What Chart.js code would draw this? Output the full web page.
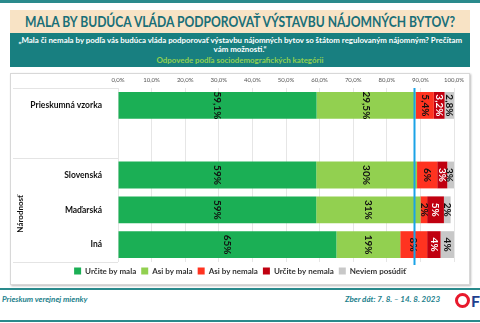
<!DOCTYPE html>
<html lang="sk">
<head>
<meta charset="utf-8">
<script src="https://cdn.jsdelivr.net/npm/chart.js"></script>
<title>Mala by budúca vláda podporovať výstavbu nájomných bytov?</title>
<style>
  body { margin: 0; width: 480px; height: 323px; background: #fff; position: relative; overflow: hidden; font-family: Lato, "Open Sans", sans-serif; }
  .topline { position: absolute; left: 0; top: 0; width: 480px; height: 3px; background: #2a8a8c; }
  .title { position: absolute; left: 10px; top: 10px; width: 460px; height: 23px; background: #f8e3c5; color: #1a6f78;
           font-weight: bold; font-size: 15px; line-height: 23px; white-space: nowrap; }
  .title span { position: absolute; left: 50%; top: 0; transform-origin: center; }
  .question { position: absolute; left: 10px; top: 33px; width: 460px; height: 34px; background: #187f80; color: #fff;
              font-weight: bold; font-size: 7.9px; text-align: center; line-height: 9px; padding-top: 3px; box-sizing: border-box; white-space: nowrap; }
  .question #q1 { display: inline-block; transform-origin: center; }
  .question .sub { color: #92d050; margin-top: 2px; }
  .panel { position: absolute; left: 10px; top: 73px; width: 460px; height: 212px; border: 1px solid #d8d8d8; box-sizing: border-box;
           box-shadow: 1px 1px 2px #bbb; }
  .chartbox { position: absolute; left: 10px; top: 73px; width: 460px; height: 212px; }
  .footline { position: absolute; left: 0; width: 480px; height: 2px; background: #2a8a8c; }
  .foot { position: absolute; top: 294px; color: #1d7f8c; font-style: italic; font-weight: bold; font-size: 8px; }
  .logo { position: absolute; left: 455px; top: 293px; width: 9px; height: 9px; border: 3px solid #e8192c; border-radius: 50%; }
  .logo2 { position: absolute; left: 471px; top: 291px; color: #1f3f8f; font-weight: bold; font-size: 16px; }
</style>
</head>
<body>
<div class="topline"></div>
<div class="title"><span id="titleText">MALA BY BUDÚCA VLÁDA PODPOROVAŤ VÝSTAVBU NÁJOMNÝCH BYTOV?</span></div>
<div class="question"><span id="q1">„Mala či nemala by podľa vás budúca vláda podporovať výstavbu nájomných bytov so štátom regulovaným nájomným? Prečítam</span><br>vám možnosti.“
  <div class="sub">Odpovede podľa sociodemografických kategórii</div></div>
<div class="panel"></div>
<div class="chartbox"><canvas id="myChart"></canvas></div>
<div class="footline" style="top:288px"></div>
<div class="foot" style="left:2px">Prieskum verejnej mienky</div>
<div class="foot" style="left:345px">Zber dát: 7. 8. – 14. 8. 2023</div>
<div class="logo"></div>
<div class="logo2">F</div>
<div class="footline" style="top:320px"></div>

<script>
  const categories = ['Prieskumná vzorka', '', 'Slovenská', 'Maďarská', 'Iná'];
  const urciteMala = [59.1, null, 59, 59, 65];
  const asiMala = [29.5, null, 30, 31, 19];
  const asiNemala = [5.4, null, 6, 2, 8];
  const urciteNemala = [3.2, null, 3, 5, 4];
  const neviem = [2.8, null, 3, 2, 4];
  const labelTexts = [
    ['59,1%', '', '59%', '59%', '65%'],
    ['29,5%', '', '30%', '31%', '19%'],
    ['5,4%', '', '6%', '2%', '8%'],
    ['3,2%', '', '3%', '5%', '4%'],
    ['2,8%', '', '3%', '2%', '4%']
  ];
  const xTicks = ['0,0%', '10,0%', '20,0%', '30,0%', '40,0%', '50,0%', '60,0%', '70,0%', '80,0%', '90,0%', '100,0%'];
  const groupLabel = 'Národnosť';
  const groupFrom = 2, groupTo = 4;
  const markerValue = 88.1;

  // squeeze texts to the widths of the original slide
  const t = document.getElementById('titleText');
  t.style.transform = 'translateX(-50%) scaleX(' + (430 / t.offsetWidth) + ')';
  const q1 = document.getElementById('q1');
  q1.style.transform = 'scaleX(' + (444 / q1.offsetWidth) + ')';

  // values printed rotated on the bars
  const barLabels = {
    id: 'barLabels',
    afterDatasetsDraw(chart) {
      const ctx = chart.ctx;
      ctx.save();
      ctx.font = 'bold 10px Lato, sans-serif';
      ctx.textAlign = 'center';
      ctx.textBaseline = 'middle';
      chart.data.datasets.forEach((ds, i) => {
        chart.getDatasetMeta(i).data.forEach((bar, j) => {
          const txt = labelTexts[i][j];
          if (!txt) return;
          const x = Math.min((bar.x + bar.base) / 2, chart.chartArea.right - 5);
          ctx.save();
          ctx.translate(x, bar.y);
          ctx.rotate(Math.PI / 2);
          ctx.fillStyle = i === 3 ? '#fff' : '#111';
          ctx.fillText(txt, 0, 0);
          ctx.restore();
        });
      });
      ctx.restore();
    },
    afterDraw(chart) {
      const ctx = chart.ctx;
      const xs = chart.scales.x, ys = chart.scales.y;
      const area = chart.chartArea;
      const step = (ys.getPixelForValue(1) - ys.getPixelForValue(0));
      ctx.save();
      // separators in the label column
      ctx.strokeStyle = '#e4e4e4';
      ctx.lineWidth = 1;
      const seps = [area.top, ys.getPixelForValue(groupFrom) - step / 2, area.bottom];
      seps.forEach(y => {
        ctx.beginPath();
        ctx.moveTo(3, Math.round(y) + 0.5);
        ctx.lineTo(area.left, Math.round(y) + 0.5);
        ctx.stroke();
      });
      // group title
      const gy = (ys.getPixelForValue(groupFrom) + ys.getPixelForValue(groupTo)) / 2 + 4;
      ctx.translate(10, gy);
      ctx.rotate(-Math.PI / 2);
      ctx.font = 'bold 8px Lato, sans-serif';
      ctx.fillStyle = '#111';
      ctx.textAlign = 'center';
      ctx.textBaseline = 'middle';
      ctx.fillText(groupLabel, 0, 0);
      ctx.restore();
      // blue marker line
      ctx.save();
      const mx = Math.round(xs.getPixelForValue(markerValue)) + 0.5;
      ctx.strokeStyle = '#1aa3e6';
      ctx.lineWidth = 2;
      ctx.beginPath();
      ctx.moveTo(mx, area.top);
      ctx.lineTo(mx, area.bottom + 3);
      ctx.stroke();
      ctx.restore();
    }
  };

  const finaldata = {
    labels: categories,
    datasets: [
      { label: 'Určite by mala', data: urciteMala, backgroundColor: '#1baf55' },
      { label: 'Asi by mala', data: asiMala, backgroundColor: '#92d050' },
      { label: 'Asi by nemala', data: asiNemala, backgroundColor: '#ff3320' },
      { label: 'Určite by nemala', data: urciteNemala, backgroundColor: '#c00010' },
      { label: 'Neviem posúdiť', data: neviem, backgroundColor: '#c8c8c8' }
    ]
  };

  const config = {
    type: 'bar',
    data: finaldata,
    options: {
      indexAxis: 'y',
      responsive: true,
      maintainAspectRatio: false,
      animation: false,
      categoryPercentage: 1,
      barPercentage: 0.77,
      layout: { padding: { top: 3, right: 16, left: 16, bottom: 0 } },
      plugins: {
        tooltip: { enabled: false },
        legend: {
          position: 'bottom',
          labels: {
            boxWidth: 7, boxHeight: 7, padding: 5,
            color: '#333',
            font: { family: 'Lato', size: 8, weight: 'bold' }
          }
        }
      },
      scales: {
        x: {
          position: 'top',
          stacked: true,
          min: 0, max: 100,
          afterFit(scale) { scale.height = 12; },
          grid: { color: '#e6e6e6', drawTicks: false },
          border: { display: false },
          ticks: {
            stepSize: 10, padding: 4,
            color: '#555',
            font: { family: 'Lato', size: 6 },
            callback: (v, i) => xTicks[i]
          }
        },
        y: {
          stacked: true,
          afterFit(scale) { scale.width = 92; },
          grid: { display: false },
          border: { display: false },
          ticks: {
            padding: 8,
            color: '#111',
            font: { family: 'Lato', size: 8.5, weight: 'bold' }
          }
        }
      }
    },
    plugins: [barLabels]
  };

  const myChart = new Chart(document.getElementById('myChart'), config);
</script>
</body>
</html>
